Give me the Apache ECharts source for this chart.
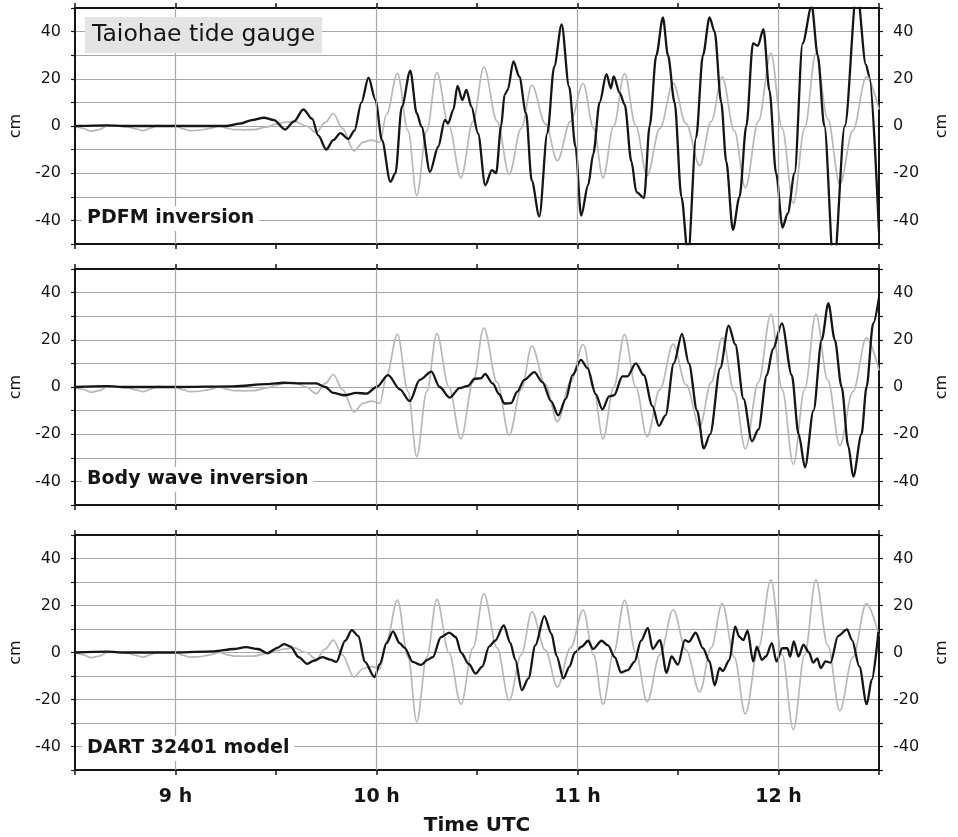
<!DOCTYPE html>
<html>
<head>
<meta charset="utf-8">
<script src="https://cdn.jsdelivr.net/npm/echarts@6/dist/echarts.min.js"></script>
<style>
  html, body { margin: 0; padding: 0; background: #fff; }
  #chart { width: 958px; height: 837px; }
</style>
</head>
<body>
<div id="chart"></div>
<script>
// Taiohae tide gauge record, hours UTC and sea level in cm
const obsT = [8.50, 8.54, 8.58, 8.62, 8.66, 8.71, 8.76, 8.80, 8.84, 8.88, 8.91, 8.95, 9.00, 9.04, 9.07, 9.12, 9.16, 9.22, 9.26, 9.29, 9.34, 9.39, 9.45, 9.50, 9.54, 9.59, 9.65, 9.70, 9.745, 9.785, 9.83, 9.888, 9.934, 9.975, 10.017, 10.05, 10.104, 10.157, 10.20, 10.25, 10.30, 10.36, 10.42, 10.48, 10.534, 10.60, 10.66, 10.72, 10.773, 10.84, 10.90, 10.965, 11.028, 11.08, 11.127, 11.18, 11.234, 11.29, 11.346, 11.41, 11.476, 11.54, 11.608, 11.665, 11.72, 11.78, 11.835, 11.90, 11.962, 12.018, 12.074, 12.13, 12.186, 12.245, 12.305, 12.37, 12.437, 12.50];
const obsV = [0, -1, -2.2, -1.5, 0, 0, -0.3, -1.2, -2, -0.8, 0.3, 0, 0, -1.2, -2, -1.8, -1.2, 0, -1, -1.5, -1.6, -1.5, -0.5, 0.8, 1.5, 2, 0, -2.8, 1.5, 5.3, -1, -10.5, -6.8, -6, -7, 5, 22.3, -2, -29.5, -2, 22.6, 0, -22, 2, 25, 2, -20.4, -1, 17.3, 1, -14.7, 2, 18, -1, -22, 0, 22.2, 0, -21, -1, 18.2, 1, -16.8, 2, 20.8, -2, -26.2, 2, 30.9, -1, -32.8, -1, 30.9, 3, -24.8, -2, 20.8, 7];

// PDFM inversion model
const pdfmT = [8.50, 8.66, 8.75, 9.00, 9.25, 9.32, 9.38, 9.44, 9.49, 9.545, 9.59, 9.636, 9.68, 9.71, 9.75, 9.785, 9.82, 9.86, 9.89, 9.925, 9.96, 9.995, 10.027, 10.069, 10.094, 10.126, 10.168, 10.20, 10.224, 10.266, 10.307, 10.34, 10.356, 10.382, 10.403, 10.427, 10.447, 10.472, 10.505, 10.541, 10.574, 10.595, 10.62, 10.637, 10.653, 10.681, 10.71, 10.744, 10.772, 10.81, 10.85, 10.884, 10.921, 10.958, 10.99, 11.018, 11.053, 11.078, 11.11, 11.144, 11.166, 11.18, 11.21, 11.235, 11.268, 11.293, 11.331, 11.359, 11.392, 11.425, 11.45, 11.483, 11.517, 11.55, 11.59, 11.624, 11.657, 11.682, 11.715, 11.74, 11.773, 11.806, 11.84, 11.873, 11.897, 11.925, 11.955, 11.988, 12.02, 12.046, 12.08, 12.12, 12.165, 12.195, 12.228, 12.275, 12.33, 12.39, 12.435, 12.452, 12.50];
const pdfmV = [0, 0.3, 0, 0, 0, 1, 2.5, 3.5, 2.5, -1.5, 2, 7, 3, -4, -10, -6, -3, -5.5, -2, 10, 20.5, 11, -6, -23.7, -20, 8.2, 23.5, 5.4, -0.3, -19.4, -8.8, 2.6, 1.1, 6.8, 17, 11, 15.3, 8.2, -3.1, -25.1, -18.7, -20, 0, 13.2, 15.3, 27.4, 21, 5.4, -23, -38.3, -3, 25.2, 43, 16.7, -8.8, -38, -25, -12, 10, 22, 16, 21, 14, 9, -15, -28, -30.5, 0, 30, 46, 30, 10, -30, -55, -5, 30, 46, 40, 10, -15, -44, -30, 0, 35, 34, 41, 15, -20, -43, -37, -20, 35, 51, 30, 0, -60, 0, 58, 26, 21, -45];

// Body wave inversion model
const bodyT = [8.50, 8.66, 8.75, 9.00, 9.29, 9.455, 9.54, 9.62, 9.70, 9.745, 9.785, 9.84, 9.90, 9.95, 10.00, 10.058, 10.116, 10.165, 10.215, 10.273, 10.314, 10.364, 10.413, 10.455, 10.488, 10.52, 10.54, 10.578, 10.61, 10.636, 10.67, 10.70, 10.735, 10.785, 10.826, 10.868, 10.904, 10.942, 10.975, 11.017, 11.05, 11.09, 11.124, 11.157, 11.182, 11.223, 11.248, 11.29, 11.33, 11.372, 11.405, 11.438, 11.479, 11.52, 11.554, 11.595, 11.628, 11.66, 11.71, 11.752, 11.785, 11.826, 11.868, 11.90, 11.942, 11.972, 12.017, 12.066, 12.10, 12.132, 12.174, 12.215, 12.248, 12.28, 12.314, 12.347, 12.372, 12.413, 12.438, 12.471, 12.50];
const bodyV = [0, 0.4, 0, 0, 0.3, 1.2, 1.8, 1.5, 1.5, 0, -2.5, -3.5, -2.5, -2.8, 0, 5, -1, -6, 3, 6.5, 0, -4.5, -0.5, 0.5, 3.5, 3.7, 5.5, 1.5, -3, -7, -6.8, -2, 3, 6.3, 2, -6, -12, -5, 5, 11.5, 8, -3, -9.5, -4, -3.5, 4.5, 4.5, 10, 5, -8, -16.5, -12, 10, 22.5, 10, -10, -26, -20, 8, 26, 18, -5, -23, -18, 5, 16, 27, 5, -20, -34, -10, 20, 35.5, 20, 0, -25, -38, -20, 0, 27, 38];

// DART 32401 model
const dartT = [8.50, 8.66, 8.75, 9.00, 9.19, 9.29, 9.35, 9.41, 9.457, 9.507, 9.54, 9.572, 9.613, 9.655, 9.688, 9.73, 9.77, 9.80, 9.844, 9.877, 9.91, 9.942, 9.99, 10.016, 10.05, 10.082, 10.115, 10.14, 10.18, 10.222, 10.255, 10.28, 10.32, 10.362, 10.395, 10.42, 10.46, 10.493, 10.526, 10.56, 10.59, 10.633, 10.666, 10.69, 10.723, 10.756, 10.79, 10.835, 10.87, 10.896, 10.93, 10.96, 10.987, 11.02, 11.053, 11.077, 11.12, 11.152, 11.185, 11.217, 11.25, 11.283, 11.316, 11.35, 11.374, 11.41, 11.443, 11.468, 11.50, 11.534, 11.553, 11.588, 11.624, 11.657, 11.682, 11.707, 11.723, 11.756, 11.784, 11.805, 11.825, 11.846, 11.874, 11.892, 11.917, 11.937, 11.967, 11.99, 12.019, 12.044, 12.058, 12.076, 12.099, 12.124, 12.152, 12.172, 12.193, 12.21, 12.234, 12.259, 12.296, 12.341, 12.366, 12.402, 12.439, 12.464, 12.497];
const dartV = [0, 0.4, 0, 0, 0.5, 1.5, 2.3, 1.5, -0.3, 2, 3.6, 2.5, -2, -4.8, -3.5, -2, -3, -4, 5, 9.5, 7, -4, -10.5, -5, 4, 9, 4, 2, -4, -5.3, -3, -2, 6.5, 8.5, 6.5, 0, -5, -9, -6, 2.5, 5, 11.5, 4, -3, -16, -11, 3, 15.5, 8, -1.5, -11, -6, 0, 2.5, 5, 1.5, 5, 3, -2, -8.5, -7.5, -4, 5, 10.5, 1.5, 5.3, -8.7, -1.7, -5.2, 5.3, 4.5, 8.4, 1.8, -3.8, -14, -6.6, -7.9, -3.1, 11, 6.7, 5.3, 9.3, -3.8, 2.5, -3.1, -1.7, 4, -3.8, 1.8, 1.8, -1.7, 4.7, -1.7, 3.3, 0, -4.3, -2.5, -6.6, -3.8, -4.3, 7, 9.8, 5.3, -5.9, -22, -11.6, 8.8];

const panelNames = ['PDFM inversion', 'Body wave inversion', 'DART 32401 model'];
const modelT = [pdfmT, bodyT, dartT];
const modelV = [pdfmV, bodyV, dartV];
const hourLines = [9, 10, 11, 12];
const cmTickLabels = [-40, -20, 0, 20, 40];

const FONT = '"DejaVu Sans", sans-serif';
const INK = '#151515';
const GRID_GRAY = '#a6a6a6';
const gridTops = [8, 269, 535];
const gridH = 236;

const zip = (t, v) => t.map((x, i) => [x, v[i]]);

const grids = [], xAxes = [], yAxes = [], series = [];

gridTops.forEach((top, i) => {
  grids.push({ left: 74, top: top, width: 808, height: gridH });
  const frameLine = { show: true, onZero: false, lineStyle: { color: INK, width: 2 } };
  const xTick = { show: true, inside: false, length: 5, lineStyle: { color: INK, width: 1.5 } };
  const last = i === gridTops.length - 1;
  xAxes.push({
    gridIndex: i, type: 'value', position: 'bottom', min: 8.5, max: 12.5, interval: 0.5,
    axisLine: frameLine, axisTick: xTick, splitLine: { show: false },
    axisLabel: {
      show: last, margin: 18, color: INK, fontFamily: FONT, fontSize: 19, fontWeight: 'bold',
      formatter: v => (Math.abs(v - Math.round(v)) < 1e-6 ? Math.round(v) + ' h' : '')
    },
    name: last ? 'Time UTC' : '', nameLocation: 'middle', nameGap: 46,
    nameTextStyle: { color: INK, fontFamily: FONT, fontSize: 20, fontWeight: 'bold' }
  });
  xAxes.push({
    gridIndex: i, type: 'value', position: 'top', min: 8.5, max: 12.5, interval: 0.5,
    axisLine: frameLine, axisTick: xTick, axisLabel: { show: false }, splitLine: { show: false }
  });
  const yLabel = {
    margin: 14, color: INK, fontFamily: FONT, fontSize: 16,
    formatter: v => (cmTickLabels.indexOf(v) >= 0 ? String(v) : '')
  };
  const yName = { color: INK, fontFamily: FONT, fontSize: 16 };
  yAxes.push({
    gridIndex: i, type: 'value', position: 'left', min: -50, max: 50, interval: 10,
    axisLine: frameLine, axisTick: { show: true, length: 4, lineStyle: { color: INK, width: 1.2 } },
    axisLabel: yLabel,
    splitLine: { show: true, lineStyle: { color: GRID_GRAY, width: 1.2 } },
    name: 'cm', nameLocation: 'middle', nameGap: 48, nameTextStyle: yName
  });
  yAxes.push({
    gridIndex: i, type: 'value', position: 'right', min: -50, max: 50, interval: 10,
    axisLine: frameLine, axisTick: { show: true, length: 4, lineStyle: { color: INK, width: 1.2 } },
    axisLabel: yLabel,
    splitLine: { show: false },
    name: 'cm', nameLocation: 'middle', nameGap: 55, nameTextStyle: yName
  });

  // observed record (grey) with the hourly vertical grid lines
  series.push({
    type: 'line', xAxisIndex: i * 2, yAxisIndex: i * 2, data: zip(obsT, obsV),
    showSymbol: false, smooth: 0.35, smoothMonotone: 'x', clip: true, z: 2,
    lineStyle: { color: '#b8b8b8', width: 1.7 },
    markLine: {
      silent: true, symbol: ['none', 'none'], label: { show: false },
      lineStyle: { color: GRID_GRAY, width: 1.2, type: 'solid' },
      data: hourLines.map(h => ({ xAxis: h }))
    }
  });
  // model (black)
  series.push({
    type: 'line', xAxisIndex: i * 2, yAxisIndex: i * 2, data: zip(modelT[i], modelV[i]),
    showSymbol: false, smooth: 0.3, smoothMonotone: 'x', clip: true, z: 3,
    lineStyle: { color: INK, width: 2.3 }
  });
});

const titles = [{
  text: 'Taiohae tide gauge', left: 85, top: 17, padding: [6, 7],
  backgroundColor: '#e4e4e4',
  textStyle: { color: INK, fontFamily: FONT, fontSize: 23.5, fontWeight: 'normal' }
}];
const labelTops = [206, 467, 736];
panelNames.forEach((name, i) => {
  titles.push({
    text: name, left: 82, top: labelTops[i], padding: [3, 5],
    backgroundColor: '#ffffff',
    textStyle: { color: INK, fontFamily: FONT, fontSize: 19, fontWeight: 'bold' }
  });
});

const chart = echarts.init(document.getElementById('chart'), null, { renderer: 'canvas' });
chart.setOption({
  animation: false,
  backgroundColor: '#ffffff',
  title: titles,
  grid: grids,
  xAxis: xAxes,
  yAxis: yAxes,
  series: series
});
</script>
</body>
</html>
